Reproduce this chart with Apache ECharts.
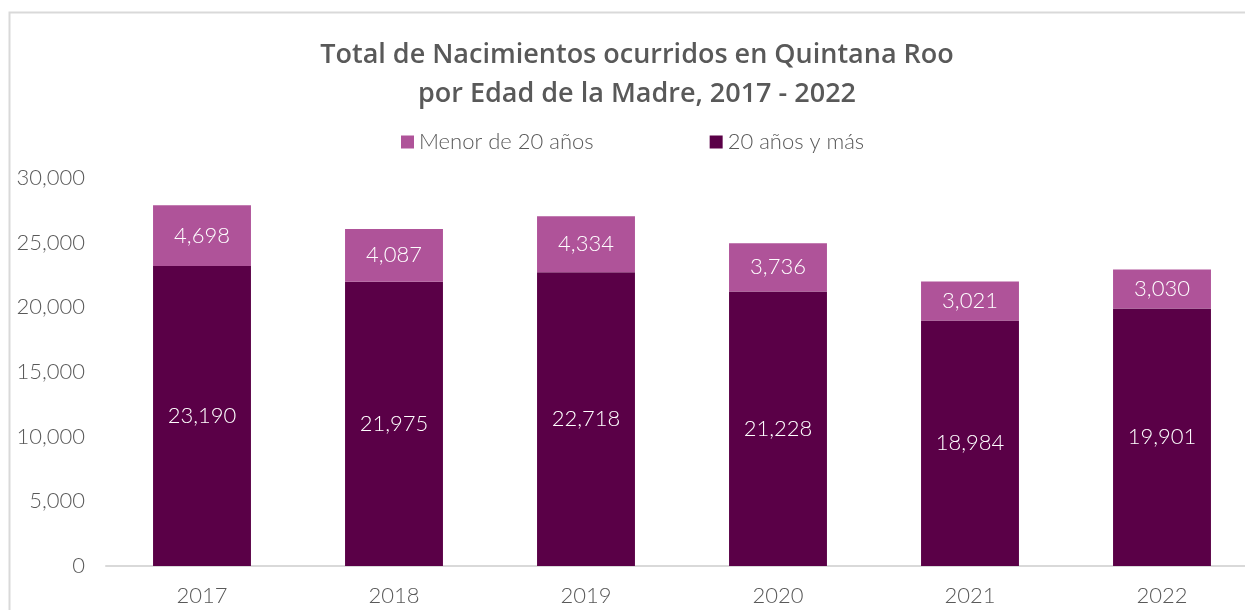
<!DOCTYPE html>
<html>
<head>
<meta charset="utf-8">
<title>Nacimientos Quintana Roo</title>
<script src="https://cdn.jsdelivr.net/npm/echarts@6/dist/echarts.min.js"></script>
<style>
  html, body { margin: 0; padding: 0; background: #fff; overflow: hidden; }
  /* el gráfico original está recortado a la derecha */
  #chart { width: 1260px; height: 610px; }
</style>
</head>
<body>
<div id="chart"></div>
<script>
// datos
const years = ['2017', '2018', '2019', '2020', '2021', '2022']
const adultas = [23190, 21975, 22718, 21228, 18984, 19901] // 20 años y más
const menores = [4698, 4087, 4334, 3736, 3021, 3030] // Menor de 20 años

const gris = '#595959'
const fuente = 'Lato'

const chart = echarts.init(document.getElementById('chart'))

chart.setOption({
  animation: false,
  // marco del gráfico
  graphic: [
    {
      type: 'rect',
      shape: { x: 9.5, y: 12.5, width: 1300, height: 700 },
      style: { fill: 'none', stroke: '#d9d9d9', lineWidth: 2 },
      silent: true
    }
  ],
  title: {
    text: 'Total de Nacimientos ocurridos en Quintana Roo\npor Edad de la Madre, 2017 - 2022',
    left: 632,
    textAlign: 'center',
    top: 31,
    textStyle: {
      color: gris,
      fontFamily: 'Open Sans',
      fontWeight: 600,
      fontSize: 27,
      lineHeight: 39
    }
  },
  legend: {
    top: 126,
    left: 396,
    itemWidth: 13,
    itemHeight: 13,
    itemGap: 116,
    icon: 'rect',
    data: ['Menor de 20 años', '20 años y más'],
    textStyle: { color: gris, fontFamily: fuente, fontWeight: 300, fontSize: 22 }
  },
  grid: { left: 106, right: 2, top: 178, bottom: 44, containLabel: false },
  xAxis: {
    type: 'category',
    data: years,
    axisLine: { lineStyle: { color: '#d9d9d9', width: 2 } },
    axisTick: { show: false },
    axisLabel: { color: gris, fontFamily: fuente, fontWeight: 300, fontSize: 22, margin: 19 }
  },
  yAxis: {
    type: 'value',
    min: 0,
    max: 30000,
    interval: 5000,
    splitLine: { show: false },
    axisLine: { show: false },
    axisTick: { show: false },
    axisLabel: {
      color: gris,
      fontFamily: fuente,
      fontWeight: 300,
      fontSize: 22,
      margin: 21,
      formatter: (v) => v.toLocaleString('en-US')
    }
  },
  series: [
    {
      name: '20 años y más',
      type: 'bar',
      stack: 'total',
      data: adultas,
      barWidth: '51%',
      itemStyle: { color: '#5a0047' },
      label: {
        show: true,
        position: 'inside',
        color: '#fff',
        fontFamily: fuente,
        fontWeight: 300,
        fontSize: 22,
        formatter: (p) => p.value.toLocaleString('en-US')
      }
    },
    {
      name: 'Menor de 20 años',
      type: 'bar',
      stack: 'total',
      data: menores,
      barWidth: '51%',
      itemStyle: { color: '#af5399' },
      label: {
        show: true,
        position: 'inside',
        color: '#fff',
        fontFamily: fuente,
        fontWeight: 300,
        fontSize: 22,
        formatter: (p) => p.value.toLocaleString('en-US')
      }
    }
  ]
})
</script>
</body>
</html>
